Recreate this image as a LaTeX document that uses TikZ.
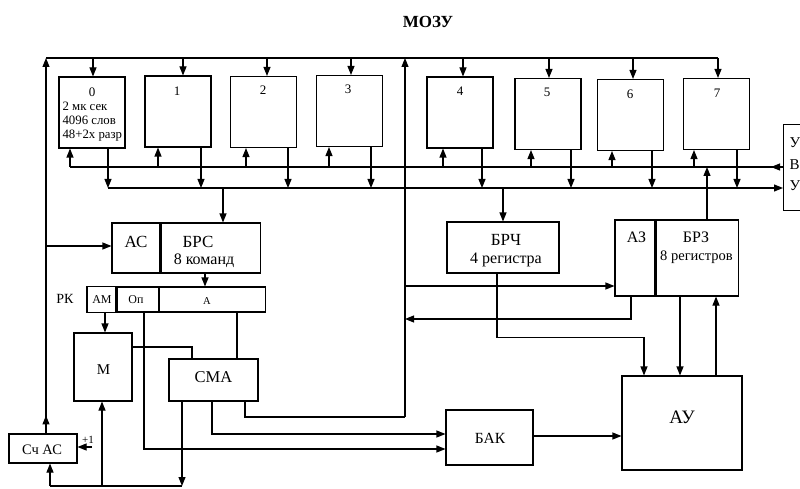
\documentclass[tikz,border=0pt]{standalone}
\usepackage{fontspec}
\setmainfont{Liberation Serif}
\usetikzlibrary{arrows.meta}
\begin{document}
\begin{tikzpicture}[x=1pt,y=-1pt,line width=1.1pt,
  >={Triangle[length=9pt,width=7pt]},
  blk/.style={draw,inner sep=0pt,line width=1.1pt},
  mem/.style={blk,minimum width=66pt,minimum height=71pt},
  txt/.style={inner sep=0pt,anchor=base,font=\fontsize{#1}{#1}\selectfont},
  ltxt/.style={inner sep=0pt,anchor=base west,font=\fontsize{#1}{#1}\selectfont}]
\useasboundingbox (0,0) rectangle (800,489);
\clip (0,0) rectangle (800,489);
% title
\node[txt=17] (title) at (428,28) {\bfseries МОЗУ};
% memory modules
\node[mem] (m0) at (92,112.5) {};
\node[mem] (m1) at (178,111.5) {};
\node[mem] (m2) at (263.5,112) {};
\node[mem] (m3) at (349.5,111) {};
\node[mem] (m4) at (460,112.5) {};
\node[mem] (m5) at (548,114) {};
\node[mem] (m6) at (630.5,115) {};
\node[mem] (m7) at (716.5,114) {};
\node[txt=13] (l0) at (92,97) {0};
\node[txt=13] (l1) at (177,96) {1};
\node[txt=13] (l2) at (263,95) {2};
\node[txt=13] (l3) at (348,94) {3};
\node[txt=13] (l4) at (460,96) {4};
\node[txt=13] (l5) at (547,97) {5};
\node[txt=13] (l6) at (630,99) {6};
\node[txt=13] (l7) at (717,98) {7};
\node[ltxt=12.8] (t0a) at (62,111) {2 мк сек};
\node[ltxt=12.8] (t0b) at (62,125) {4096 слов};
\node[ltxt=12.8] (t0c) at (62,139) {48+2x разр};
% УВУ
\node[blk,minimum width=40pt,minimum height=86pt,anchor=north west] (uvu) at (783,124) {};
\node[ltxt=15] (u1) at (789,148) {У};
\node[ltxt=15] (u2) at (789,170) {В};
\node[ltxt=15] (u3) at (789,190) {У};
% top bus
\coordinate (tl) at (46,58);
\coordinate (tr) at (718,58);
\draw (tl) -- (tr);
\foreach \i/\x in {0/93,1/183,2/267,3/351,4/463,5/549,6/633,7/718}
  \draw[->] (tl -| \x,0) -- (m\i.north -| \x,0);
% bus A and bus B
\coordinate (bAl) at (70,167);
\coordinate (bBl) at (108,188);
\draw (bAl) -- (uvu.west |- bAl);
\draw[->] (uvu.west |- bAl) -- ++(-12,0);
\draw[->] (bBl) -- (uvu.west |- bBl);
\foreach \i/\x in {0/70,1/158,2/246,3/329,4/443,5/531,6/612,7/694}
  \draw[->] (bAl -| \x,0) -- (m\i.south -| \x,0);
\foreach \i/\x in {0/108,1/201,2/288,3/371,4/482,5/571,6/652,7/737}
  \draw[->] (m\i.south -| \x,0) -- (bBl -| \x,0);
% АС / БРС
\node[blk,minimum width=48pt,minimum height=50pt] (ac) at (136,248) {};
\node[blk,minimum width=99pt,minimum height=50pt,anchor=west] (brs) at (ac.east) {};
\node[txt=17] (tac) at (136,247) {АС};
\node[txt=17] (tbrs) at (198,247) {БРС};
\node[txt=16] (tbrs2) at (204,264) {8 команд};
\draw[->] (bBl -| 223,0) -- (brs.north -| 223,0);
% register РК
\node[txt=14] (trk) at (65,303) {РК};
\node[blk,minimum width=29pt,minimum height=26pt] (am) at (101.5,299.5) {};
\node[blk,minimum width=41pt,minimum height=25pt,anchor=west] (op) at (am.east) {};
\node[blk,minimum width=106pt,minimum height=25pt,anchor=west] (acell) at (op.east) {};
\node[txt=12] (tam) at (102,303) {АМ};
\node[txt=12] (top) at (136,303) {Оп};
\node[txt=10.5] (ta) at (207,304) {А};
\draw[->] (brs.south -| 205,0) -- (acell.north -| 205,0);
% М and СМА
\node[blk,minimum width=58pt,minimum height=68pt] (mm) at (103,367) {};
\node[txt=15] (tmm) at (103.5,374) {М};
\node[blk,minimum width=89pt,minimum height=42pt] (sma) at (213.5,380) {};
\node[txt=16.5] (tsma) at (213.5,382) {СМА};
\draw[->] (am.south -| 105,0) -- (mm.north -| 105,0);
\draw (mm.east |- 0,347) -| (sma.north -| 192,0);
\draw (acell.south -| 237,0) -- (sma.north -| 237,0);
% Сч АС
\node[blk,minimum width=68pt,minimum height=29pt] (sch) at (43,448.5) {};
\node[txt=14.5] (tsch) at (42,454) {Сч АС};
\node[txt=11] (tp1) at (88,443) {+1};
\coordinate (p1) at (92,447);
\draw[->] (p1) -- (sch.east |- p1);
\draw[->] (sch.north -| 46,0) -- (tl);
\draw[->] (sch.north -| 46,0) -- ++(0,-18);
\draw[->] (tl |- 0,246) -- (ac.west |- 0,246);
% БАК
\node[blk,minimum width=87pt,minimum height=55pt] (bak) at (489.5,437.5) {};
\node[txt=15.5] (tbak) at (490,443) {БАК};
\draw[->] (op.south -| 144,0) |- (bak.west |- 0,449);
\draw[->] (sma.south -| 212,0) |- (bak.west |- 0,434);
% central vertical
\coordinate (cv) at (405,417);
\draw (sma.south -| 245,0) |- (cv);
\draw[->] (cv) -- (tl -| cv);
% bottom line
\coordinate (bot) at (50,486);
\draw[->] (sma.south -| 182,0) -- (bot -| 182,0);
\draw (bot) -- (bot -| 182,0);
\draw[->] (bot) -- (sch.south -| bot);
\draw[->] (bot -| 102,0) -- (mm.south -| 102,0);
% БРЧ
\node[blk,minimum width=112pt,minimum height=51pt] (brch) at (503,247.5) {};
\node[txt=17] (tbrch) at (506,245) {БРЧ};
\node[txt=16] (tbrch2) at (506,263) {4 регистра};
\draw[->] (bBl -| 503,0) -- (brch.north);
% АЗ / БРЗ
\node[blk,minimum width=40pt,minimum height=76pt] (az) at (635,258) {};
\node[blk,minimum width=82pt,minimum height=76pt,anchor=west] (brz) at (az.east) {};
\node[txt=16] (taz) at (636.5,242) {АЗ};
\node[txt=16] (tbrz) at (696,242) {БРЗ};
\node[txt=14.5] (tbrz2) at (696.5,260) {8 регистров};
\draw[->] (brz.north -| 707,0) -- (bAl -| 707,0);
\draw[->] (cv |- 0,286) -- (az.west |- 0,286);
\draw[->] (az.south -| 631,0) |- (cv |- 0,319);
% АУ
\node[blk,minimum width=120pt,minimum height=94pt] (au) at (682,423) {};
\node[txt=19] (tau) at (682,423) {АУ};
\draw[->] (brch.south -| 497,0) -- ++(0,64) -| (au.north -| 644,0);
\draw[->] (brz.south -| 680,0) -- (au.north -| 680,0);
\draw[->] (au.north -| 716,0) -- (brz.south -| 716,0);
\draw[->] (bak.east |- 0,436) -- (au.west |- 0,436);
\end{tikzpicture}
\end{document}
